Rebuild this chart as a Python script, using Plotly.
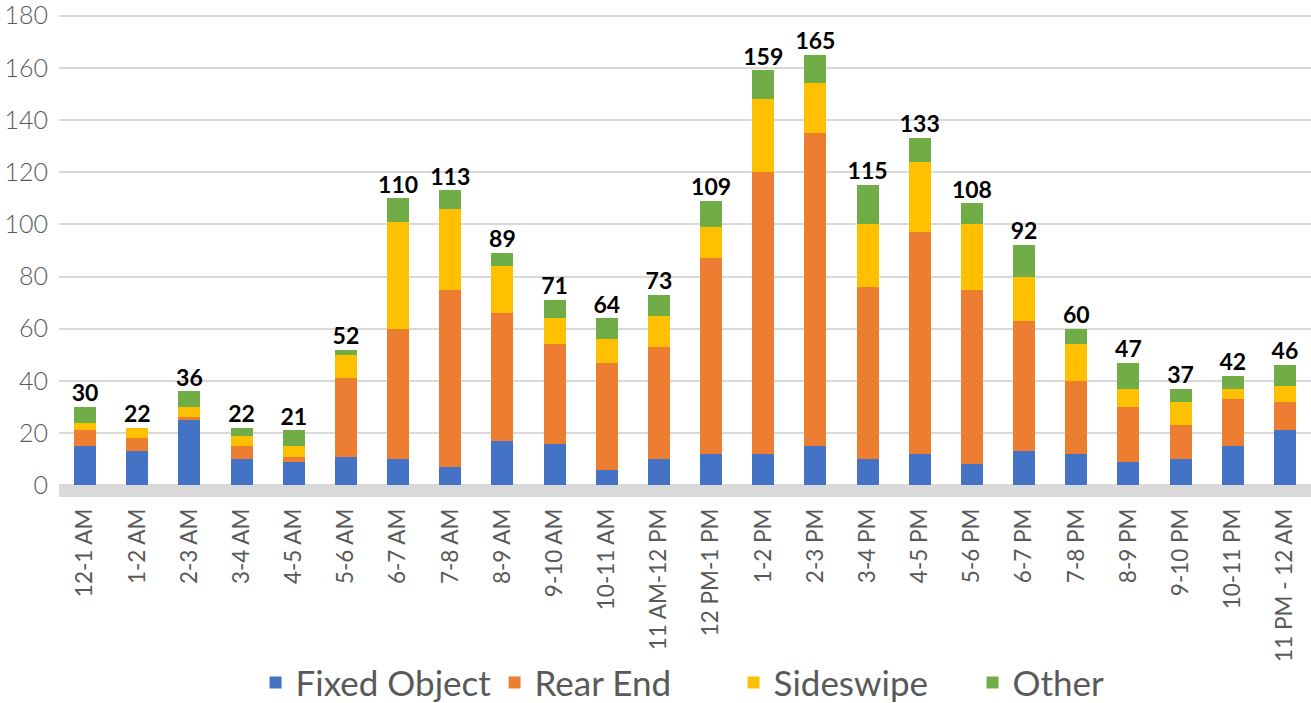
import plotly.graph_objects as go

# horários (categorias do eixo x)
hours = ['12-1 AM', '1-2 AM', '2-3 AM', '3-4 AM', '4-5 AM', '5-6 AM', '6-7 AM',
         '7-8 AM', '8-9 AM', '9-10 AM', '10-11 AM', '11 AM-12 PM', '12 PM-1 PM',
         '1-2 PM', '2-3 PM', '3-4 PM', '4-5 PM', '5-6 PM', '6-7 PM', '7-8 PM',
         '8-9 PM', '9-10 PM', '10-11 PM', '11 PM - 12 AM']

# valores por tipo de colisão
fixed_object = [15, 13, 25, 10, 9, 11, 10, 7, 17, 16, 6, 10, 12, 12, 15, 10, 12, 8, 13, 12, 9, 10, 15, 21]
rear_end = [6, 5, 1, 5, 2, 30, 50, 68, 49, 38, 41, 43, 75, 108, 120, 66, 85, 67, 50, 28, 21, 13, 18, 11]
sideswipe = [3, 4, 4, 4, 4, 9, 41, 31, 18, 10, 9, 12, 12, 28, 19, 24, 27, 25, 17, 14, 7, 9, 4, 6]
other = [6, 0, 6, 3, 6, 2, 9, 7, 5, 7, 8, 8, 10, 11, 11, 15, 9, 8, 12, 6, 10, 5, 5, 8]

totals = [a + b + c + d for a, b, c, d in zip(fixed_object, rear_end, sideswipe, other)]

FONT = 'Lato'
GREY_TXT = '#595959'

series = [
    ('Fixed Object', fixed_object, '#4472C4'),
    ('Rear End', rear_end, '#ED7D31'),
    ('Sideswipe', sideswipe, '#FFC000'),
    ('Other', other, '#70AD47'),
]

fig = go.Figure()

for name, vals, color in series:
    fig.add_trace(go.Bar(
        x=hours,
        y=vals,
        name=name,
        marker=dict(color=color, line=dict(width=0)),
    ))

# rótulos com o total acima de cada barra
fig.add_trace(go.Scatter(
    x=hours,
    y=totals,
    mode='text',
    text=[str(t) for t in totals],
    textposition='top center',
    textfont=dict(family=FONT, size=23, color='#000000', weight='bold'),
    showlegend=False,
    hoverinfo='skip',
))

# faixa cinza na base do gráfico
fig.add_shape(
    type='rect', xref='paper', x0=0, x1=1, yref='y', y0=-4.5, y1=0,
    fillcolor='#D9D9D9', line=dict(width=0), layer='below',
)

fig.update_layout(
    barmode='stack',
    bargap=0.58,
    width=1311,
    height=703,
    margin=dict(l=59, r=0, t=13, b=206, autoexpand=False),
    plot_bgcolor='white',
    paper_bgcolor='white',
    font=dict(family=FONT, color=GREY_TXT),
    legend=dict(
        orientation='h',
        x=0.157, xanchor='left',
        y=-0.384, yanchor='middle',
        font=dict(size=35, color=GREY_TXT),
        traceorder='normal',
        entrywidth=194,
    ),
)

fig.update_xaxes(
    range=[-0.5, 23.5],
    tickangle=-90,
    tickfont=dict(size=22.5, color=GREY_TXT),
    ticklabelstandoff=6,
    showgrid=False,
    showline=False,
    ticks='',
    automargin=False,
)

fig.update_yaxes(
    range=[-4.5, 181],
    tickvals=[0, 20, 40, 60, 80, 100, 120, 140, 160, 180],
    tickfont=dict(size=25, color=GREY_TXT, weight=300),
    ticklabeloverflow='allow',
    ticklabelstandoff=10,
    showgrid=True,
    gridcolor='#D9D9D9',
    gridwidth=1.5,
    zeroline=False,
    showline=False,
    automargin=False,
)

# tira a margem padrão do body para a figura ocupar a janela inteira
fig.write_html(
    'out.html',
    config={'displayModeBar': False},
    post_script="document.body.style.margin='0';",
)
